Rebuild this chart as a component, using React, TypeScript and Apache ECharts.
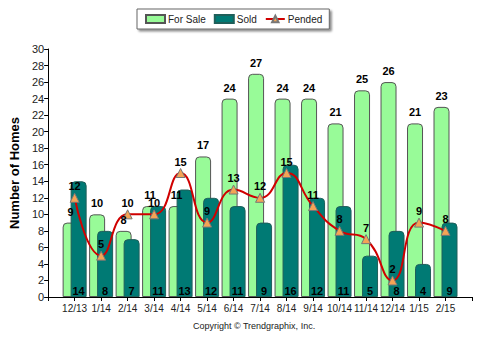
import React, { useEffect, useRef } from "react";
import * as echarts from "echarts";

const categories = ["12/13", "1/14", "2/14", "3/14", "4/14", "5/14", "6/14", "7/14", "8/14", "9/14", "10/14", "11/14", "12/14", "1/15", "2/15"];
const forSale = [9, 10, 8, 11, 11, 17, 24, 27, 24, 24, 21, 25, 26, 21, 23];
const sold = [14, 8, 7, 11, 13, 12, 11, 9, 16, 12, 11, 5, 8, 4, 9];
const pended = [12, 5, 10, 10, 15, 9, 13, 12, 15, 11, 8, 7, 2, 9, 8];

const pad = (arr: any[]) => [null, ...arr, null];

export default function App() {
  const ref = useRef<HTMLDivElement>(null);
  useEffect(() => {
    const chart = echarts.init(ref.current!, null, { renderer: "svg" });
    const font = "Liberation Sans, Arial, sans-serif";
    const lbl = { color: "#000", fontWeight: "bold" as const, fontSize: 11, fontFamily: font, opacity: 1 };
    chart.setOption({
      animation: false,
      textStyle: { fontFamily: font },
      legend: {
        left: 137,
        top: 9,
        padding: [5, 7, 5, 8],
        itemGap: 8,
        itemWidth: 19,
        itemHeight: 8,
        borderColor: "#666",
        borderWidth: 1,
        backgroundColor: "#fff",
        shadowColor: "rgba(0,0,0,0.45)",
        shadowBlur: 2,
        shadowOffsetX: 2,
        shadowOffsetY: 2,
        textStyle: { fontSize: 10, color: "#222", fontFamily: font, padding: [0, 0, 0, -2] },
        data: [
          { name: "For Sale", icon: "rect" },
          { name: "Sold", icon: "rect" },
          { name: "Pended" },
        ],
      },
      graphic: [
        {
          type: "text",
          x: 254,
          y: 321,
          style: {
            text: "Copyright © Trendgraphix, {p|Inc.}",
            fontSize: 9,
            fill: "#222",
            align: "center",
            fontFamily: font,
            rich: { p: { fontSize: 9, color: "#5a3f8a", fontFamily: font } },
          },
        },
      ],
      grid: { left: 38, right: 9, top: 49, bottom: 43, containLabel: false },
      xAxis: {
        type: "category",
        boundaryGap: false,
        data: pad(categories).map((c) => (c === null ? "" : c)),
        axisLine: { lineStyle: { color: "#000", width: 1 } },
        axisTick: { show: true, alignWithLabel: true, length: 4, lineStyle: { color: "#000" } },
        axisLabel: { fontSize: 10, color: "#222", margin: 6, interval: 0, fontFamily: font },
        splitLine: { show: false },
      },
      yAxis: {
        type: "value",
        min: 0,
        max: 30,
        interval: 2,
        name: "Number of Homes",
        nameLocation: "middle",
        nameGap: 22,
        nameRotate: 90,
        nameTextStyle: { fontSize: 13, fontWeight: "bold", color: "#000", fontFamily: font },
        axisLine: { show: true, lineStyle: { color: "#000" } },
        axisTick: { show: true, length: 4, lineStyle: { color: "#000" } },
        axisLabel: { fontSize: 11, color: "#222", margin: 4, fontFamily: font },
        splitLine: { show: false },
      },
      series: [
        {
          name: "For Sale",
          type: "bar",
          data: pad(forSale),
          barWidth: 16,
          barGap: "-50%",
          itemStyle: { color: "#98FB98", borderColor: "#555", borderWidth: 1, borderRadius: [4, 4, 0, 0] },
          label: { show: false },
          z: 2,
        },
        {
          name: "Sold",
          type: "bar",
          data: pad(sold),
          barWidth: 16,
          itemStyle: { color: "#007A74", borderColor: "#1f5f5a", borderWidth: 1, borderRadius: [4, 4, 0, 0] },
          label: { show: true, position: "insideBottom", distance: 1, ...lbl },
          z: 3,
        },
        {
          name: "Pended",
          type: "line",
          data: pad(pended),
          smooth: 0.5,
          connectNulls: false,
          symbol: "triangle",
          symbolSize: 9,
          lineStyle: { color: "#D00000", width: 2 },
          itemStyle: { color: "#F4A455", borderColor: "#777", borderWidth: 1 },
          label: { show: true, position: "top", distance: 1, ...lbl },
          z: 5,
        },
        {
          name: "For Sale Labels",
          type: "scatter",
          data: pad(forSale),
          symbolSize: 1,
          silent: true,
          itemStyle: { opacity: 1, color: "rgba(0,0,0,0)" },
          label: { show: true, position: "top", distance: 5, offset: [-4, 0], ...lbl },
          z: 6,
        },
      ],
    });
    return () => chart.dispose();
  }, []);
  return <div ref={ref} style={{ position: "absolute", left: 0, top: 0, width: 481, height: 340 }} />;
}
